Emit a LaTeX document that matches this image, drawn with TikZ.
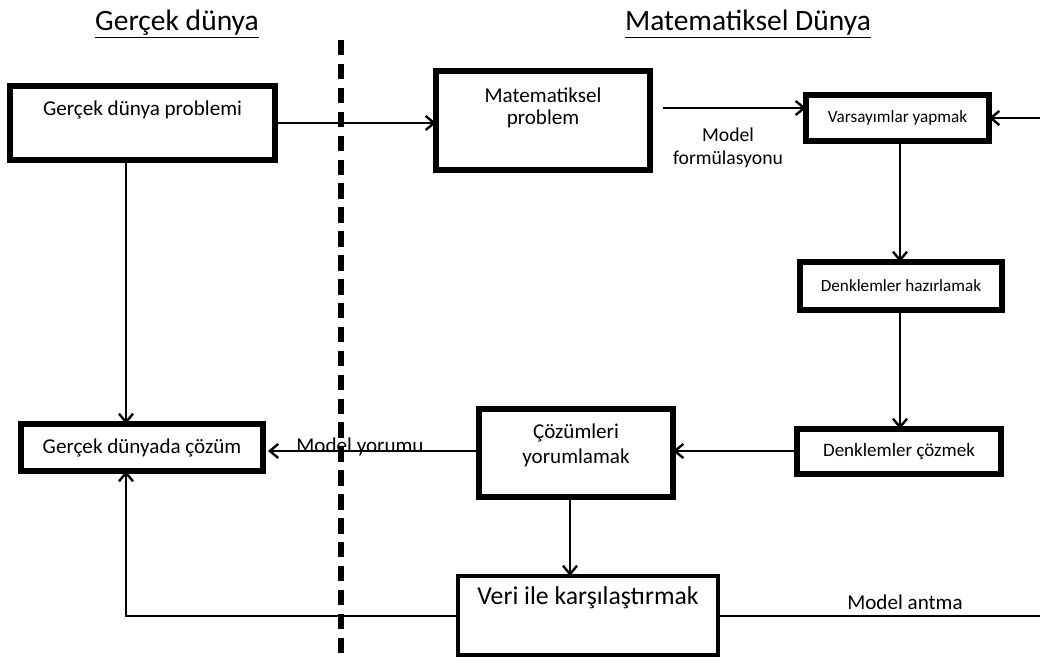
\documentclass[tikz,border=0pt]{standalone}
\usepackage{fontspec}
\setmainfont{Carlito}
\usetikzlibrary{arrows.meta}
\begin{document}
\begin{tikzpicture}[x=0.025cm,y=-0.025cm,
  box/.style={draw,line width=4pt,inner sep=0pt,outer sep=0pt,align=center},
  wire/.style={line width=1.5pt},
  arr/.style={wire,-{Straight Barb[length=6pt,width=10pt,line width=1.7pt]}},
  ttl/.style={font=\fontsize{21}{24}\selectfont},
  big/.style={font=\fontsize{15}{17}\selectfont,align=center},
  mid/.style={font=\fontsize{13.5}{16}\selectfont,align=center},
  small/.style={font=\fontsize{12.2}{14}\selectfont,align=center},
  huge/.style={font=\fontsize{18.3}{21}\selectfont,align=center},
]
\useasboundingbox (0,0) rectangle (1040,661);

% headings of the two worlds
\node[ttl] (hReal) at (177,24) {\underline{Gerçek dünya}};
\node[ttl] (hMath) at (748,24) {\underline{Matematiksel Dünya}};

% dividing line
\coordinate (dTop) at (341,40);
\coordinate (dBot) at (341,661);
\draw[line width=3.6pt,dash pattern=on 11pt off 6pt] (dTop) -- (dBot);

% boxes
\node[box,minimum width=6.625cm,minimum height=1.85cm] (p1) at (142.5,123) {};
\node[big] (t1) at (142.5,110) {Gerçek dünya problemi};
\node[box,minimum width=5.35cm,minimum height=2.475cm] (p2) at (543,120.5) {};
\node[big,font=\fontsize{15}{15.5}\selectfont] (t2) at (543,107.5) {Matematiksel\\problem};
\node[box,minimum width=4.575cm,minimum height=1.15cm,small] (p3) at (897.5,118) {Varsayımlar yapmak};
\node[box,minimum width=5.05cm,minimum height=1.2cm,small] (p4) at (901,286) {Denklemler hazırlamak};
\node[box,minimum width=5.1cm,minimum height=1.125cm,mid] (p5) at (899,451.5) {Denklemler çözmek};
\node[box,minimum width=4.85cm,minimum height=2.2cm] (p6) at (576,453) {};
\node[big,font=\fontsize{15}{18}\selectfont] (t6) at (576,445.5) {Çözümleri\\yorumlamak};
\node[box,minimum width=6.05cm,minimum height=1.175cm,big] (p7) at (142,447.5) {Gerçek dünyada çözüm};
\node[box,line width=3.2pt,minimum width=6.5cm,minimum height=1.975cm] (p8) at (588,615.5) {};
\node[huge] (t8) at (588,598) {Veri ile karşılaştırmak};

% helper coordinates for the connector lines
\coordinate (yA) at (0,123);
\coordinate (yB) at (0,108);
\coordinate (mfStart) at (663,108);
\coordinate (reTop) at (1040,118);
\coordinate (xR) at (900,0);
\coordinate (yC) at (0,451);
\coordinate (xL) at (126,0);
\coordinate (xM) at (570,0);
\coordinate (yD) at (0,616);
\coordinate (corner) at (126,616);
\coordinate (reBot) at (1040,616);

% connectors
\draw[arr] (p1.east |- yA) -- (p2.west |- yA);
\draw[arr] (mfStart) -- (p3.west |- yB);
\draw[arr] (reTop) -- (p3.east);
\draw[arr] (p3.south -| xR) -- (p4.north -| xR);
\draw[arr] (p4.south -| xR) -- (p5.north -| xR);
\draw[arr] (p5.west |- yC) -- (p6.east |- yC);
\draw[arr,shorten >=3.5pt] (p6.west |- yC) -- (p7.east |- yC);
\draw[arr] (p1.south -| xL) -- (p7.north -| xL);
\draw[arr] (p6.south -| xM) -- (p8.north -| xM);
\draw[arr] (p8.west |- yD) -- (corner) -- (p7.south -| xL);
\draw[wire] (p8.east |- yD) -- (reBot);

% connector labels
\node[big,font=\fontsize{14}{16.5}\selectfont] (lForm) at (728,148) {Model\\formülasyonu};
\node[big] (lYor) at (360,446.5) {Model yorumu};
\node[big] (lAnt) at (905,602) {Model antma};
\end{tikzpicture}
\end{document}
